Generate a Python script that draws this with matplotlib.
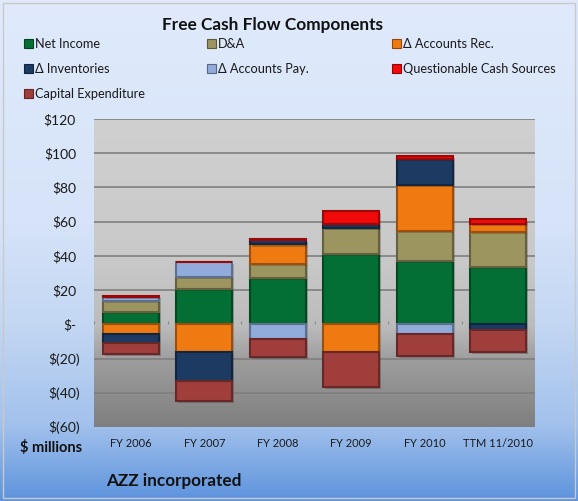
import matplotlib
matplotlib.use("Agg")
import matplotlib.pyplot as plt
import matplotlib.patheffects as pe
import numpy as np
from matplotlib.colors import LinearSegmentedColormap, to_rgb
from matplotlib.patches import Rectangle

plt.rcParams["font.family"] = ["Lato", "DejaVu Sans"]

categories = ["FY 2006", "FY 2007", "FY 2008", "FY 2009", "FY 2010", "TTM 11/2010"]
net_income = [7.5, 20.8, 27.1, 41.2, 37.3, 33.3]
d_and_a = [5.9, 6.9, 8.2, 14.9, 17.3, 20.6]
accounts_rec = [-5.9, -16.3, 11.4, -16.3, 26.9, 4.9]
inventories = [-4.9, -17.1, 2.4, 2.6, 14.9, -3.3]
accounts_pay = [2.5, 8.6, -8.8, 0.0, -5.9, 0.0]
questionable = [0.8, 0.0, 0.5, 7.5, 1.8, 2.5]
capex = [-6.3, -11.4, -10.4, -20.4, -12.5, -13.1]

y_ticks = [-60, -40, -20, 0, 20, 40, 60, 80, 100, 120]
y_labels = ["$(60)", "$(40)", "$(20)", "$-", "$20", "$40", "$60", "$80", "$100", "$120"]

SERIES = [
    ("Net Income", net_income, "#046f34"),
    ("D&A", d_and_a, "#9c9560"),
    ("\u0394 Accounts Rec.", accounts_rec, "#f07a12"),
    ("\u0394 Inventories", inventories, "#1d3a63"),
    ("\u0394 Accounts Pay.", accounts_pay, "#91acda"),
    ("Questionable Cash Sources", questionable, "#f00a0a"),
    ("Capital Expenditure", capex, "#a03e3c"),
]


def darker(c, f=0.7):
    r, g, b = to_rgb(c)
    return (r * f, g * f, b * f)


W, H = 578, 502
fig = plt.figure(figsize=(W / 100, H / 100), dpi=100)

# figure background: light blue fading to a deeper blue at the bottom
bg = fig.add_axes([0, 0, 1, 1], zorder=-10)
bg_cmap = LinearSegmentedColormap.from_list(
    "bg", [(0.0, "#e0eafc"), (0.45, "#d6e3f8"), (0.65, "#c3d7f3"),
           (0.85, "#a2c1ec"), (1.0, "#5d93dd")])
bg.imshow(np.linspace(0, 1, 256)[:, None], aspect="auto", cmap=bg_cmap,
          extent=[0, 1, 0, 1], origin="upper")
bg.add_patch(Rectangle((3 / W, 3 / H), 572 / W, 495 / H, fill=False,
                       edgecolor="#c9c9c9", lw=1, transform=bg.transAxes))
bg.set_xlim(0, 1)
bg.set_ylim(0, 1)
bg.axis("off")

ax = fig.add_axes([94 / W, 74 / H, 441 / W, 308 / H])
x = np.arange(len(categories))
ax.set_xlim(-0.5, len(categories) - 0.5)
ax.set_ylim(-60, 120)

# plot area: gray gradient
pa_cmap = LinearSegmentedColormap.from_list(
    "pa", [(0.0, "#d0d0d0"), (0.45, "#c9c9c9"), (0.67, "#bcbcbc"),
           (0.78, "#9e9e9e"), (1.0, "#7f7f7f")])
ax.imshow(np.linspace(0, 1, 256)[:, None], aspect="auto", cmap=pa_cmap,
          extent=[-0.5, len(categories) - 0.5, -60, 120], origin="upper", zorder=0)

for t in y_ticks:
    if t != 0:
        ax.axhline(t, color="#7f7f7f", lw=1.2, zorder=1)
ax.vlines(np.arange(len(categories) + 1) - 0.5, 0, 2.2, color="#8a8a8a", lw=0.8, zorder=1)

pos = np.zeros(len(categories))
neg = np.zeros(len(categories))
shadow = [pe.SimplePatchShadow(offset=(1.5, -1.5), alpha=0.25), pe.Normal()]
for label, vals, color in SERIES:
    v = np.array(vals)
    bottom = np.where(v >= 0, pos, neg)
    bars = ax.bar(x, v, 0.76, bottom=bottom, color=color, edgecolor=darker(color, 0.65),
                  lw=1.5, zorder=3, label=label)
    for b in bars:
        if b.get_height() != 0:
            b.set_path_effects(shadow)
    pos += np.clip(v, 0, None)
    neg += np.clip(v, None, 0)

ax.set_xticks(x)
ax.set_xticklabels(categories, fontsize=7.9, color="#1a1a1a")
ax.tick_params(axis="x", length=0, pad=7.5)
ax.set_yticks([])
for t, lab in zip(y_ticks, y_labels):
    shift = -10 if lab.endswith(")") else -13
    ax.annotate(lab, xy=(0, t), xycoords=("axes fraction", "data"), xytext=(shift, 0),
                textcoords="offset points", ha="right", va="center",
                fontsize=10, color="#1a1a1a", annotation_clip=False)
for s in ax.spines.values():
    s.set_visible(False)

fig.text(273 / W, 1 - 25 / H, "Free Cash Flow Components", ha="center", va="center",
         fontsize=12.4, fontweight="bold", color="#111111")

# legend laid out row by row like the original
cols = [24, 207, 392]
rows = [44, 69, 94]
for i, (label, vals, color) in enumerate(SERIES):
    cx, cy = cols[i % 3], rows[i // 3]
    fig.patches.append(Rectangle((cx / W, 1 - (cy + 4.5) / H), 9 / W, 9 / H,
                                 facecolor=color, edgecolor=darker(color, 0.6), lw=0.8,
                                 transform=fig.transFigure, figure=fig))
    fig.text((cx + 11) / W, 1 - cy / H, label, ha="left", va="center",
             fontsize=9.2, color="#1a1a1a")

fig.text(82 / W, 1 - 448 / H, "$ millions", ha="right", va="center",
         fontsize=10.5, fontweight="bold", color="#111111")
fig.text(106 / W, 1 - 481 / H, "AZZ incorporated", ha="left", va="center",
         fontsize=12.3, fontweight="bold", color="#111111")

fig.savefig("out.png", dpi=100)
